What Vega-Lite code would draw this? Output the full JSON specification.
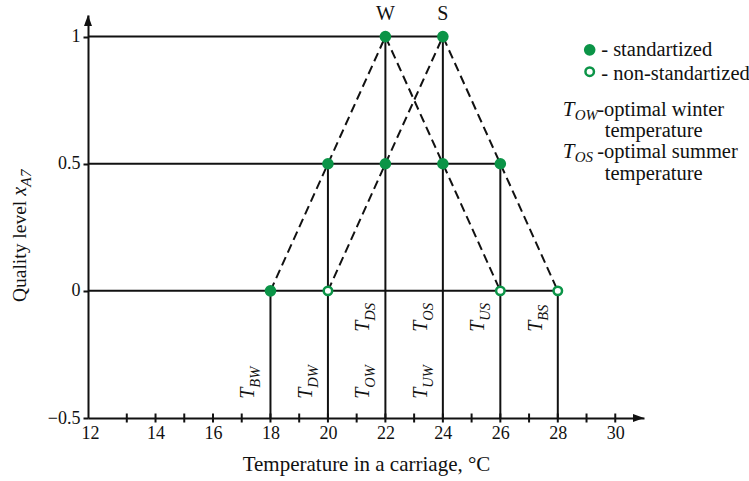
{
  "$schema": "https://vega.github.io/schema/vega-lite/v6.json",
  "width": 556,
  "height": 403,
  "autosize": {"type": "none"},
  "padding": {"left": 88, "top": 15, "right": 105, "bottom": 63},
  "background": "white",
  "config": {
    "view": {"stroke": null},
    "font": "Liberation Serif",
    "text": {"font": "Liberation Serif", "color": "#111111"},
    "axis": {"labelFont": "Liberation Serif", "titleFont": "Liberation Serif", "labelFontSize": 18, "labelColor": "#111111"}
  },
  "datasets": {
    "hl": [
      {"x": 11.65, "y": 1, "x2": 24},
      {"x": 11.65, "y": 0.5, "x2": 26},
      {"x": 11.65, "y": 0, "x2": 28}
    ],
    "vl": [
      {"x": 18, "y": 0, "y2": -0.5},
      {"x": 20, "y": 0.5, "y2": -0.5},
      {"x": 22, "y": 1, "y2": -0.5},
      {"x": 24, "y": 1, "y2": -0.5},
      {"x": 26, "y": 0.5, "y2": -0.5},
      {"x": 28, "y": 0, "y2": -0.5}
    ],
    "dash": [
      {"x": 18, "y": 0, "s": "W"},
      {"x": 22, "y": 1, "s": "W"},
      {"x": 26, "y": 0, "s": "W"},
      {"x": 20, "y": 0, "s": "S"},
      {"x": 24, "y": 1, "s": "S"},
      {"x": 28, "y": 0, "s": "S"}
    ],
    "ticks": [
      {"x": 13}, {"x": 14}, {"x": 15}, {"x": 16}, {"x": 17}, {"x": 18},
      {"x": 19}, {"x": 20}, {"x": 21}, {"x": 22}, {"x": 23}, {"x": 24},
      {"x": 25}, {"x": 26}, {"x": 27}, {"x": 28}, {"x": 29}, {"x": 30}
    ],
    "pts": [
      {"x": 18, "y": 0, "kind": "standartized"},
      {"x": 20, "y": 0.5, "kind": "standartized"},
      {"x": 22, "y": 0.5, "kind": "standartized"},
      {"x": 24, "y": 0.5, "kind": "standartized"},
      {"x": 26, "y": 0.5, "kind": "standartized"},
      {"x": 22, "y": 1, "kind": "standartized"},
      {"x": 24, "y": 1, "kind": "standartized"},
      {"x": 20, "y": 0, "kind": "non-standartized"},
      {"x": 26, "y": 0, "kind": "non-standartized"},
      {"x": 28, "y": 0, "kind": "non-standartized"}
    ],
    "peaks": [
      {"x": 22, "lab": "W"},
      {"x": 24, "lab": "S"}
    ],
    "tl": [
      {"x": 18, "sub": "BW", "row": "lower"},
      {"x": 20, "sub": "DW", "row": "lower"},
      {"x": 22, "sub": "OW", "row": "lower"},
      {"x": 24, "sub": "UW", "row": "lower"},
      {"x": 22, "sub": "DS", "row": "upper"},
      {"x": 24, "sub": "OS", "row": "upper"},
      {"x": 26, "sub": "US", "row": "upper"},
      {"x": 28, "sub": "BS", "row": "upper"}
    ],
    "one": [{}]
  },
  "layer": [
    {
      "data": {"name": "hl"},
      "mark": {"type": "rule", "color": "#111111", "strokeWidth": 2},
      "encoding": {
        "x": {
          "field": "x",
          "type": "quantitative",
          "scale": {"domain": [11.65, 31], "nice": false, "zero": false},
          "axis": {
            "values": [12, 14, 16, 18, 20, 22, 24, 26, 28, 30],
            "format": "d",
            "ticks": false,
            "grid": false,
            "domain": true,
            "domainColor": "#111111",
            "domainWidth": 2,
            "labelFontSize": 18,
            "labelColor": "#111111",
            "labelPadding": 6,
            "labelOffset": {"condition": {"test": "datum.value == 12", "value": -8}, "value": 0},
            "title": "Temperature in a carriage, °C",
            "titleFontSize": 21,
            "titleFontWeight": "normal",
            "titleColor": "#111111",
            "titlePadding": 11
          }
        },
        "x2": {"field": "x2"},
        "y": {
          "field": "y",
          "type": "quantitative",
          "scale": {"domain": [-0.5, 1.085], "nice": false, "zero": false},
          "axis": {
            "values": [-0.5, 0, 0.5, 1],
            "format": ".1~f",
            "grid": false,
            "ticks": true,
            "tickSize": 5,
            "tickWidth": 2,
            "tickColor": "#111111",
            "domain": true,
            "domainColor": "#111111",
            "domainWidth": 2,
            "labelFontSize": 18,
            "labelColor": "#111111",
            "labelPadding": 3,
            "title": null
          }
        }
      }
    },
    {
      "data": {"name": "vl"},
      "mark": {"type": "rule", "color": "#111111", "strokeWidth": 2},
      "encoding": {
        "x": {"field": "x", "type": "quantitative"},
        "y": {"field": "y", "type": "quantitative"},
        "y2": {"field": "y2"}
      }
    },
    {
      "data": {"name": "dash"},
      "mark": {"type": "line", "color": "#111111", "strokeWidth": 2, "strokeDash": [9, 5]},
      "encoding": {
        "x": {"field": "x", "type": "quantitative"},
        "y": {"field": "y", "type": "quantitative"},
        "detail": {"field": "s"}
      }
    },
    {
      "data": {"name": "ticks"},
      "mark": {"type": "tick", "orient": "vertical", "size": 9, "thickness": 2, "color": "#111111", "opacity": 1},
      "encoding": {
        "x": {"field": "x", "type": "quantitative"},
        "y": {"datum": -0.5}
      }
    },
    {
      "data": {"name": "pts"},
      "transform": [{"filter": "datum.kind == 'standartized'"}],
      "mark": {"type": "point", "shape": "circle", "filled": true, "size": 135, "color": "#0b9447", "opacity": 1},
      "encoding": {
        "x": {"field": "x", "type": "quantitative"},
        "y": {"field": "y", "type": "quantitative"}
      }
    },
    {
      "data": {"name": "pts"},
      "transform": [{"filter": "datum.kind == 'non-standartized'"}],
      "mark": {"type": "point", "shape": "circle", "filled": true, "size": 72, "fill": "white", "stroke": "#0b9447", "strokeWidth": 2.5, "opacity": 1},
      "encoding": {
        "x": {"field": "x", "type": "quantitative"},
        "y": {"field": "y", "type": "quantitative"}
      }
    },
    {
      "data": {"name": "peaks"},
      "mark": {"type": "text", "fontSize": 20, "align": "center", "baseline": "alphabetic", "dy": -17},
      "encoding": {
        "x": {"field": "x", "type": "quantitative"},
        "y": {"datum": 1},
        "text": {"field": "lab"}
      }
    },
    {
      "data": {"name": "tl"},
      "transform": [{"filter": "datum.row == 'lower'"}],
      "mark": {"type": "text", "text": "T", "angle": 270, "align": "left", "baseline": "alphabetic", "fontStyle": "italic", "fontSize": 20, "dy": -16},
      "encoding": {
        "x": {"field": "x", "type": "quantitative"},
        "y": {"datum": -0.424}
      }
    },
    {
      "data": {"name": "tl"},
      "transform": [{"filter": "datum.row == 'lower'"}],
      "mark": {"type": "text", "angle": 270, "align": "left", "baseline": "alphabetic", "fontStyle": "italic", "fontSize": 14.5, "dx": 11, "dy": -10},
      "encoding": {
        "x": {"field": "x", "type": "quantitative"},
        "y": {"datum": -0.424},
        "text": {"field": "sub"}
      }
    },
    {
      "data": {"name": "tl"},
      "transform": [{"filter": "datum.row == 'upper'"}],
      "mark": {"type": "text", "text": "T", "angle": 270, "align": "left", "baseline": "alphabetic", "fontStyle": "italic", "fontSize": 20, "dy": -16},
      "encoding": {
        "x": {"field": "x", "type": "quantitative"},
        "y": {"datum": -0.161}
      }
    },
    {
      "data": {"name": "tl"},
      "transform": [{"filter": "datum.row == 'upper'"}],
      "mark": {"type": "text", "angle": 270, "align": "left", "baseline": "alphabetic", "fontStyle": "italic", "fontSize": 14.5, "dx": 11, "dy": -10},
      "encoding": {
        "x": {"field": "x", "type": "quantitative"},
        "y": {"datum": -0.161},
        "text": {"field": "sub"}
      }
    },
    {
      "data": {"name": "one"},
      "mark": {"type": "point", "shape": "circle", "filled": true, "size": 135, "color": "#0b9447", "opacity": 1},
      "encoding": {"x": {"datum": 29.11}, "y": {"datum": 0.948}}
    },
    {
      "data": {"name": "one"},
      "mark": {"type": "point", "shape": "circle", "filled": true, "size": 72, "fill": "white", "stroke": "#0b9447", "strokeWidth": 2.5, "opacity": 1},
      "encoding": {"x": {"datum": 29.11}, "y": {"datum": 0.862}}
    },
    {
      "data": {"name": "one"},
      "mark": {"type": "text", "text": "- standartized", "align": "left", "baseline": "alphabetic", "fontSize": 20.5},
      "encoding": {"x": {"datum": 29.51}, "y": {"datum": 0.924}}
    },
    {
      "data": {"name": "one"},
      "mark": {"type": "text", "text": "- non-standartized", "align": "left", "baseline": "alphabetic", "fontSize": 20.5},
      "encoding": {"x": {"datum": 29.51}, "y": {"datum": 0.83}}
    },
    {
      "data": {"name": "one"},
      "mark": {"type": "text", "text": "T", "align": "left", "baseline": "alphabetic", "fontStyle": "italic", "fontSize": 21},
      "encoding": {"x": {"datum": 28.17}, "y": {"datum": 0.688}}
    },
    {
      "data": {"name": "one"},
      "mark": {"type": "text", "text": "OW", "align": "left", "baseline": "alphabetic", "fontStyle": "italic", "fontSize": 15, "dx": 12, "dy": 4},
      "encoding": {"x": {"datum": 28.17}, "y": {"datum": 0.688}}
    },
    {
      "data": {"name": "one"},
      "mark": {"type": "text", "text": "-optimal winter", "align": "left", "baseline": "alphabetic", "fontSize": 20.5},
      "encoding": {"x": {"datum": 29.37}, "y": {"datum": 0.688}}
    },
    {
      "data": {"name": "one"},
      "mark": {"type": "text", "text": "temperature", "align": "left", "baseline": "alphabetic", "fontSize": 20.5},
      "encoding": {"x": {"datum": 29.635}, "y": {"datum": 0.606}}
    },
    {
      "data": {"name": "one"},
      "mark": {"type": "text", "text": "T", "align": "left", "baseline": "alphabetic", "fontStyle": "italic", "fontSize": 21},
      "encoding": {"x": {"datum": 28.17}, "y": {"datum": 0.523}}
    },
    {
      "data": {"name": "one"},
      "mark": {"type": "text", "text": "OS", "align": "left", "baseline": "alphabetic", "fontStyle": "italic", "fontSize": 15, "dx": 12, "dy": 4},
      "encoding": {"x": {"datum": 28.17}, "y": {"datum": 0.523}}
    },
    {
      "data": {"name": "one"},
      "mark": {"type": "text", "text": "-optimal summer", "align": "left", "baseline": "alphabetic", "fontSize": 20.5},
      "encoding": {"x": {"datum": 29.37}, "y": {"datum": 0.523}}
    },
    {
      "data": {"name": "one"},
      "mark": {"type": "text", "text": "temperature", "align": "left", "baseline": "alphabetic", "fontSize": 20.5},
      "encoding": {"x": {"datum": 29.635}, "y": {"datum": 0.437}}
    },
    {
      "data": {"name": "one"},
      "mark": {"type": "text", "text": "Quality level", "angle": 270, "align": "right", "baseline": "alphabetic", "fontSize": 19.5, "dx": -5},
      "encoding": {"x": {"datum": 9.5}, "y": {"datum": 0.374}}
    },
    {
      "data": {"name": "one"},
      "mark": {"type": "text", "text": "x", "angle": 270, "align": "left", "baseline": "alphabetic", "fontStyle": "italic", "fontSize": 20},
      "encoding": {"x": {"datum": 9.5}, "y": {"datum": 0.374}}
    },
    {
      "data": {"name": "one"},
      "mark": {"type": "text", "text": "A7", "angle": 270, "align": "left", "baseline": "alphabetic", "fontStyle": "italic", "fontSize": 15.5, "dx": 9, "dy": 5},
      "encoding": {"x": {"datum": 9.5}, "y": {"datum": 0.374}}
    },
    {
      "data": {"name": "one"},
      "mark": {"type": "point", "shape": "M0,0L-2.2,-0.8L-2.2,0.8Z", "filled": true, "size": 100, "color": "#111111", "opacity": 1},
      "encoding": {"x": {"datum": 31}, "y": {"datum": -0.5}}
    },
    {
      "data": {"name": "one"},
      "mark": {"type": "point", "shape": "M0,0L-0.8,2.2L0.8,2.2Z", "filled": true, "size": 100, "color": "#111111", "opacity": 1},
      "encoding": {"x": {"datum": 11.65}, "y": {"datum": 1.085}}
    }
  ]
}
